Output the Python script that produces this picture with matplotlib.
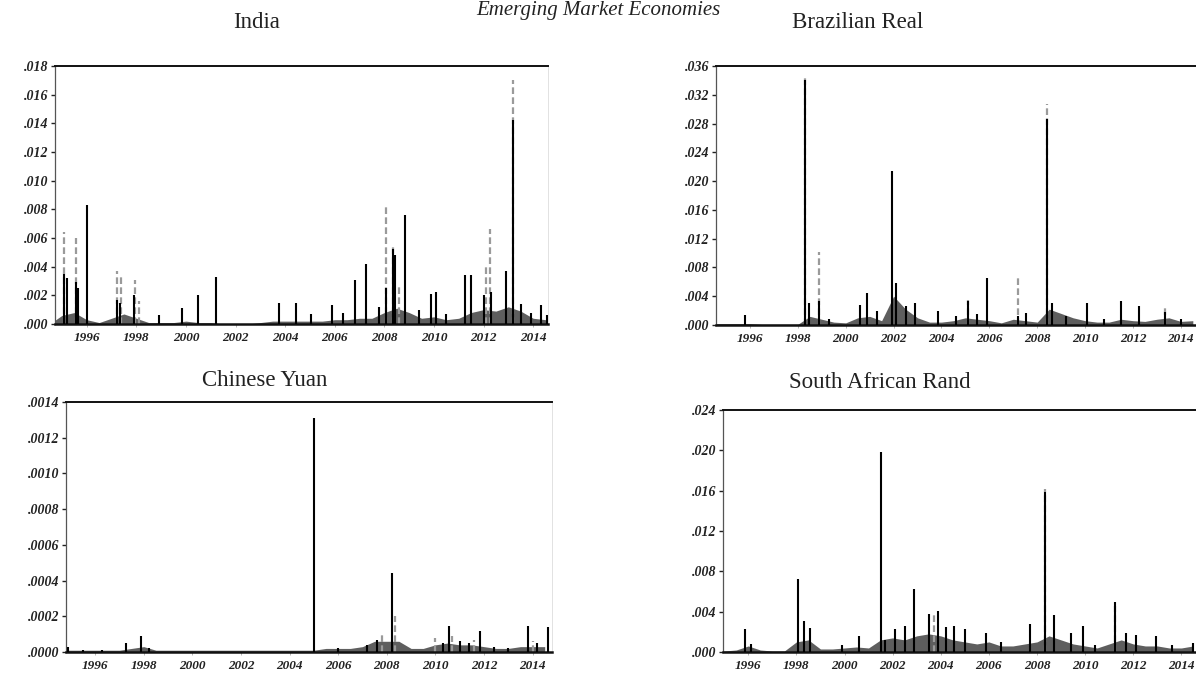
import matplotlib
matplotlib.use("Agg")
import matplotlib.pyplot as plt
import numpy as np

# ---------------- data ----------------
years_ticks = [1996, 1998, 2000, 2002, 2004, 2006, 2008, 2010, 2012, 2014]
half_years = [1994.5 + 0.5 * i for i in range(41)]

# India
india_black_t = [1995.1, 1995.2, 1995.55, 1995.65, 1996.0, 1997.2, 1997.35, 1997.9,
                 1998.9, 1999.85, 2000.5, 2001.2, 2003.75, 2004.45, 2005.05, 2005.9,
                 2006.35, 2006.8, 2007.25, 2007.8, 2008.05, 2008.35, 2008.45, 2008.85,
                 2009.4, 2009.9, 2010.1, 2010.5, 2011.25, 2011.5, 2012.0, 2012.3,
                 2012.9, 2013.2, 2013.5, 2013.9, 2014.3, 2014.55]
india_black_v = [0.0035, 0.0032, 0.0029, 0.0025, 0.0083, 0.0017, 0.0015, 0.0020,
                 0.0006, 0.0011, 0.0020, 0.0033, 0.0015, 0.0015, 0.0007, 0.0013,
                 0.0008, 0.0031, 0.0042, 0.0012, 0.0025, 0.0052, 0.0048, 0.0076,
                 0.0010, 0.0021, 0.0022, 0.0007, 0.0034, 0.0034, 0.0020, 0.0022,
                 0.0037, 0.0142, 0.0014, 0.0008, 0.0013, 0.0006]
india_light_t = [1995.1, 1995.55, 1997.2, 1997.4, 1997.95, 1998.1, 2008.05, 2008.35,
                 2008.6, 2012.1, 2012.25, 2013.2]
india_light_v = [0.0064, 0.0060, 0.0037, 0.0034, 0.0031, 0.0016, 0.0083, 0.0056,
                 0.0028, 0.0040, 0.0066, 0.0170]
india_area = [0.0000, 0.0006, 0.0008, 0.0003, 0.0001, 0.0004, 0.0007, 0.0004, 0.0001,
              0.0001, 0.0001, 0.0002, 0.0001, 0.0001, 0.0000, 0.0000, 0.0000, 0.0001,
              0.0002, 0.0002, 0.0002, 0.0002, 0.0002, 0.0003, 0.0003, 0.0004, 0.0004,
              0.0008, 0.0011, 0.0008, 0.0004, 0.0005, 0.0003, 0.0004, 0.0008, 0.0010,
              0.0009, 0.0012, 0.0009, 0.0004, 0.0003]
india_yticks = [0.000, 0.002, 0.004, 0.006, 0.008, 0.010, 0.012, 0.014, 0.016, 0.018]
india_ylabels = [".000", ".002", ".004", ".006", ".008", ".010", ".012", ".014", ".016", ".018"]

# Brazilian Real
brazil_black_t = [1995.8, 1998.3, 1998.45, 1998.9, 1999.3, 2000.6, 2000.9, 2001.3,
                  2001.95, 2002.1, 2002.5, 2002.9, 2003.85, 2004.6, 2005.1, 2005.5,
                  2005.9, 2007.2, 2007.55, 2008.4, 2008.6, 2009.2, 2010.1, 2010.8,
                  2011.5, 2012.25, 2013.35, 2014.0, 2014.7]
brazil_black_v = [0.0014, 0.0340, 0.0030, 0.0033, 0.0008, 0.0028, 0.0045, 0.0019,
                  0.0214, 0.0058, 0.0026, 0.0030, 0.0020, 0.0012, 0.0033, 0.0015,
                  0.0065, 0.0012, 0.0016, 0.0286, 0.0030, 0.0012, 0.0031, 0.0008,
                  0.0034, 0.0026, 0.0018, 0.0008, 0.0033]
brazil_light_t = [1998.3, 1998.9, 2005.1, 2007.2, 2008.4, 2013.35]
brazil_light_v = [0.0348, 0.0102, 0.0035, 0.0067, 0.0307, 0.0023]
brazil_area = [0.0002, 0.0002, 0.0002, 0.0002, 0.0001, 0.0001, 0.0001, 0.0001, 0.0012,
               0.0008, 0.0004, 0.0003, 0.0010, 0.0012, 0.0006, 0.0040, 0.0022, 0.0010,
               0.0004, 0.0004, 0.0006, 0.0010, 0.0008, 0.0006, 0.0003, 0.0008, 0.0006,
               0.0004, 0.0022, 0.0016, 0.0010, 0.0006, 0.0004, 0.0004, 0.0008, 0.0006,
               0.0005, 0.0008, 0.0010, 0.0005, 0.0006]
brazil_yticks = [0.000, 0.004, 0.008, 0.012, 0.016, 0.020, 0.024, 0.028, 0.032, 0.036]
brazil_ylabels = [".000", ".004", ".008", ".012", ".016", ".020", ".024", ".028", ".032", ".036"]

# Chinese Yuan
china_black_t = [1994.9, 1995.5, 1996.3, 1997.25, 1997.9, 1998.2, 2005.0, 2006.0,
                 2007.2, 2007.6, 2008.2, 2010.3, 2010.55, 2011.0, 2011.4, 2011.85,
                 2012.4, 2013.0, 2013.8, 2014.2, 2014.65]
china_black_v = [0.00003, 0.00001, 0.00001, 0.00005, 0.00009, 0.00002, 0.00131, 0.00002,
                 0.00004, 0.00007, 0.00044, 0.00005, 0.000145, 0.00006, 0.00005, 0.00012,
                 0.00003, 0.00002, 0.000145, 0.00005, 0.00014]
china_light_t = [2007.8, 2008.35, 2010.0, 2010.7, 2011.6, 2014.0]
china_light_v = [0.00010, 0.00020, 0.00008, 0.00009, 0.00007, 0.00006]
china_area = [0.00001, 0.00001, 0.00001, 0.00001, 0.00001, 0.00001, 0.00002, 0.00003,
              0.00001, 0.00001, 0.00001, 0.00001, 0.00001, 0.00001, 0.00001, 0.00001,
              0.00001, 0.00001, 0.00001, 0.00001, 0.00001, 0.00001, 0.00002, 0.00002,
              0.00002, 0.00003, 0.00006, 0.00006, 0.00006, 0.00002, 0.00002, 0.00004,
              0.00005, 0.00004, 0.00004, 0.00003, 0.00002, 0.00002, 0.00003, 0.00003,
              0.00003]
china_yticks = [0.0000, 0.0002, 0.0004, 0.0006, 0.0008, 0.0010, 0.0012, 0.0014]
china_ylabels = [".0000", ".0002", ".0004", ".0006", ".0008", ".0010", ".0012", ".0014"]

# South African Rand
sa_black_t = [1995.87, 1996.1, 1998.06, 1998.3, 1998.57, 1999.9, 2000.6, 2001.5, 2001.7,
              2002.1, 2002.5, 2002.9, 2003.5, 2003.87, 2004.2, 2004.55, 2005.0, 2005.9,
              2006.5, 2007.7, 2008.35, 2008.7, 2009.4, 2009.9, 2010.4, 2011.25, 2011.7,
              2012.1, 2012.95, 2013.6, 2014.5]
sa_black_v = [0.0023, 0.0008, 0.0072, 0.0031, 0.0024, 0.0007, 0.0016, 0.0198, 0.0012,
              0.0023, 0.0026, 0.0062, 0.0038, 0.0041, 0.0025, 0.0026, 0.0023, 0.0019,
              0.0010, 0.0028, 0.0159, 0.0037, 0.0019, 0.0026, 0.0007, 0.0050, 0.0019,
              0.0017, 0.0016, 0.0007, 0.0009]
sa_light_t = [2003.7, 2008.35, 2011.25]
sa_light_v = [0.0040, 0.0162, 0.0046]
sa_area = [0.0001, 0.0001, 0.0002, 0.0006, 0.0002, 0.0001, 0.0001, 0.0010, 0.0012,
           0.0003, 0.0003, 0.0004, 0.0005, 0.0004, 0.0012, 0.0014, 0.0012, 0.0016,
           0.0018, 0.0016, 0.0012, 0.0010, 0.0008, 0.0010, 0.0006, 0.0006, 0.0008,
           0.0010, 0.0016, 0.0012, 0.0008, 0.0006, 0.0004, 0.0008, 0.0012, 0.0008,
           0.0006, 0.0006, 0.0004, 0.0004, 0.0006]
sa_yticks = [0.000, 0.004, 0.008, 0.012, 0.016, 0.020, 0.024]
sa_ylabels = [".000", ".004", ".008", ".012", ".016", ".020", ".024"]

# ---------------- figure ----------------
W, H = 1196, 673
fig = plt.figure(figsize=(W / 100, H / 100), dpi=100)
fig.patch.set_facecolor("white")

serif = ["Liberation Serif", "DejaVu Serif"]


def box(l, t, r, b):
    return [l / W, 1 - b / H, (r - l) / W, (b - t) / H]


panels = [
    dict(title="India", tpos=(257, 22), rect=box(55, 66, 548, 324), xlim=(1994.72, 2014.6),
         bt=india_black_t, bv=india_black_v, lt=india_light_t, lv=india_light_v,
         area=india_area, yt=india_yticks, yl=india_ylabels),
    dict(title="Brazilian Real", tpos=(858, 22), rect=box(716, 66, 1200, 325),
         xlim=(1994.58, 2014.8),
         bt=brazil_black_t, bv=brazil_black_v, lt=brazil_light_t, lv=brazil_light_v,
         area=brazil_area, yt=brazil_yticks, yl=brazil_ylabels),
    dict(title="Chinese Yuan", tpos=(265, 380), rect=box(66, 402, 552, 652),
         xlim=(1994.8, 2014.8),
         bt=china_black_t, bv=china_black_v, lt=china_light_t, lv=china_light_v,
         area=china_area, yt=china_yticks, yl=china_ylabels),
    dict(title="South African Rand", tpos=(880, 382), rect=box(723, 410, 1203, 652),
         xlim=(1994.95, 2014.9),
         bt=sa_black_t, bv=sa_black_v, lt=sa_light_t, lv=sa_light_v,
         area=sa_area, yt=sa_yticks, yl=sa_ylabels),
]

for p in panels:
    ax = fig.add_axes(p["rect"])
    ax.fill_between(half_years, 0, p["area"], color="#5e5e5e", lw=0, zorder=1)
    ax.vlines(p["lt"], 0, p["lv"], color="#9a9a9a", lw=1.6, linestyles=(0, (3, 1.5)), zorder=2)
    ax.vlines(p["bt"], 0, p["bv"], color="black", lw=1.5, zorder=3)
    ax.set_xlim(*p["xlim"])
    ax.set_ylim(p["yt"][0], p["yt"][-1])
    ax.set_yticks(p["yt"])
    ax.set_yticklabels(p["yl"], family=serif, style="italic", weight="bold",
                       fontsize=10, color="#222222")
    ax.set_xticks(years_ticks)
    ax.set_xticklabels([str(y) for y in years_ticks], family=serif, style="italic",
                       weight="bold", fontsize=9.5, color="#222222")
    ax.tick_params(axis="y", direction="out", length=3, width=1, pad=2, colors="#222222")
    ax.tick_params(axis="x", direction="out", length=2, width=0.6, pad=4, color="#aaaaaa")
    ax.spines["top"].set_linewidth(1.4)
    ax.spines["top"].set_color("#111111")
    ax.spines["left"].set_linewidth(0.9)
    ax.spines["left"].set_color("#555555")
    ax.spines["right"].set_linewidth(0.6)
    ax.spines["right"].set_color("#dddddd")
    ax.spines["bottom"].set_linewidth(1.8)
    ax.spines["bottom"].set_color("#111111")
    fig.text(p["tpos"][0] / W, 1 - p["tpos"][1] / H, p["title"], family=serif,
             fontsize=16.5, ha="center", va="center", color="#222222")

fig.text(0.5, 1 - 1 / H, "Emerging Market Economies", family=serif, style="italic",
         fontsize=15, ha="center", va="top", color="#222222")

fig.savefig("out.png", dpi=100, facecolor="white")
